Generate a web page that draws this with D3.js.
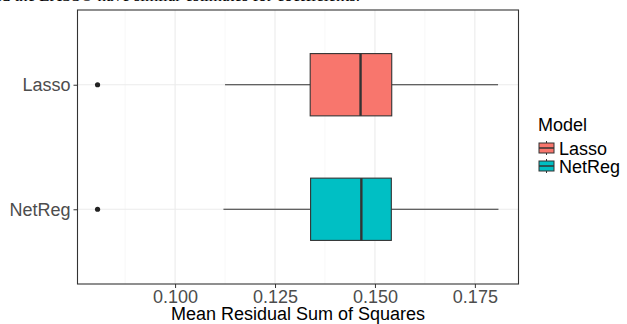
<!DOCTYPE html>
<html>
<head>
<meta charset="utf-8">
<script src="https://cdn.jsdelivr.net/npm/d3@7"></script>
<style>
  body { margin: 0; background: #fff; }
  svg { display: block; }
  text { font-family: "Liberation Sans", Arial, sans-serif; }
</style>
</head>
<body>
<svg id="chart" width="627" height="324"></svg>
<script>
// box summaries
const models = ['Lasso', 'NetReg'];
const whiskerLow = [0.1125, 0.1121];
const q1 = [0.1338, 0.1339];
const median = [0.1464, 0.1466];
const q3 = [0.1542, 0.1541];
const whiskerHigh = [0.1808, 0.1809];
const outliers = [0.0806, 0.0806];
const xTicks = [0.100, 0.125, 0.150, 0.175];
const colors = ['#F8766D', '#00BFC4'];

const svg = d3.select('#chart');
const margin = {left: 77.5, right: 108.5, top: 10, bottom: 40};
const W = 627, H = 324;
const pw = W - margin.left - margin.right;
const ph = H - margin.top - margin.bottom;

// caption fragment cut off above the figure
svg.append('text')
  .attr('x', 360).attr('y', 1)
  .attr('text-anchor', 'end')
  .style('font-family', '"Liberation Serif", "Times New Roman", serif')
  .style('font-size', '17px')
  .text('and the LASSO have similar estimates for coefficients.');

const lo = d3.min(outliers.concat(whiskerLow));
const hi = d3.max(whiskerHigh);
const pad = (hi - lo) * 0.05;
const x = d3.scaleLinear().domain([lo - pad, hi + pad]).range([0, pw]);
// discrete axis with ggplot's 0.6 expansion
const y = d3.scaleLinear().domain([0.4, 2.6]).range([0, ph]);

const g = svg.append('g').attr('transform', `translate(${margin.left},${margin.top})`);

// grid
const minor = d3.range(0.0875, 0.19, 0.025).filter(v => v > x.domain()[0] && v < x.domain()[1]);
g.selectAll('line.minor').data(minor).enter().append('line')
  .attr('x1', d => x(d)).attr('x2', d => x(d))
  .attr('y1', 0).attr('y2', ph)
  .attr('stroke', '#f2f2f2').attr('stroke-width', 0.6);
g.selectAll('line.major').data(xTicks).enter().append('line')
  .attr('x1', d => x(d)).attr('x2', d => x(d))
  .attr('y1', 0).attr('y2', ph)
  .attr('stroke', '#ebebeb').attr('stroke-width', 1.1);
g.selectAll('line.ymajor').data(models).enter().append('line')
  .attr('x1', 0).attr('x2', pw)
  .attr('y1', (d, i) => y(i + 1)).attr('y2', (d, i) => y(i + 1))
  .attr('stroke', '#ebebeb').attr('stroke-width', 1.1);

// boxes
const bw = 0.5;
models.forEach((m, i) => {
  const cy = y(i + 1);
  g.append('line')
    .attr('x1', x(whiskerLow[i])).attr('x2', x(q1[i]))
    .attr('y1', cy).attr('y2', cy)
    .attr('stroke', '#333').attr('stroke-width', 1.1);
  g.append('line')
    .attr('x1', x(q3[i])).attr('x2', x(whiskerHigh[i]))
    .attr('y1', cy).attr('y2', cy)
    .attr('stroke', '#333').attr('stroke-width', 1.1);
  g.append('rect')
    .attr('x', x(q1[i])).attr('width', x(q3[i]) - x(q1[i]))
    .attr('y', y(i + 1 - bw / 2)).attr('height', y(i + 1 + bw / 2) - y(i + 1 - bw / 2))
    .attr('fill', colors[i]).attr('stroke', '#333').attr('stroke-width', 1.1);
  g.append('line')
    .attr('x1', x(median[i])).attr('x2', x(median[i]))
    .attr('y1', y(i + 1 - bw / 2)).attr('y2', y(i + 1 + bw / 2))
    .attr('stroke', '#333').attr('stroke-width', 2.4);
  g.append('circle')
    .attr('cx', x(outliers[i])).attr('cy', cy).attr('r', 2.6)
    .attr('fill', '#222');
});

// panel border
g.append('rect').attr('width', pw).attr('height', ph)
  .attr('fill', 'none').attr('stroke', '#333').attr('stroke-width', 1.1);

// x axis
const xa = g.append('g').attr('transform', `translate(0,${ph})`)
  .call(d3.axisBottom(x).tickValues(xTicks).tickFormat(d3.format('.3f')).tickSize(4).tickPadding(2));
xa.select('.domain').remove();
xa.selectAll('line').attr('stroke', '#333');
xa.selectAll('text').attr('fill', '#4d4d4d').style('font-size', '18px');

// y axis
const ya = g.append('g')
  .call(d3.axisLeft(y).tickValues([1, 2]).tickFormat(d => models[d - 1]).tickSize(4).tickPadding(3));
ya.select('.domain').remove();
ya.selectAll('line').attr('stroke', '#333');
ya.selectAll('text').attr('fill', '#4d4d4d').style('font-size', '18px');

svg.append('text')
  .attr('x', margin.left + pw / 2).attr('y', 320)
  .attr('text-anchor', 'middle')
  .style('font-size', '18px').attr('fill', '#000')
  .text('Mean Residual Sum of Squares');

// legend
const lg = svg.append('g').attr('transform', 'translate(538,0)');
lg.append('text').attr('x', 0).attr('y', 131)
  .style('font-size', '18px').text('Model');
models.forEach((m, i) => {
  const ky = 141 + i * 18;
  lg.append('line').attr('x1', 8.5).attr('x2', 8.5).attr('y1', ky).attr('y2', ky + 14)
    .attr('stroke', '#333').attr('stroke-width', 1);
  lg.append('rect').attr('x', 1).attr('y', ky + 2).attr('width', 15).attr('height', 10)
    .attr('fill', colors[i]).attr('stroke', '#333').attr('stroke-width', 1);
  lg.append('line').attr('x1', 1).attr('x2', 16).attr('y1', ky + 7).attr('y2', ky + 7)
    .attr('stroke', '#333').attr('stroke-width', 1.5);
  lg.append('text').attr('x', 21).attr('y', ky + 14)
    .style('font-size', '18px').text(m);
});
</script>
</body>
</html>
